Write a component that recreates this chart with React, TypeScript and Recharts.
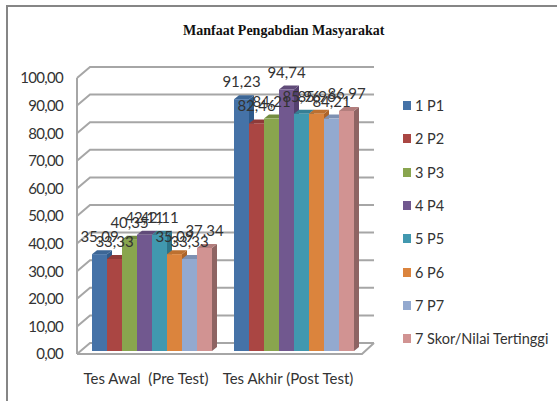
import { BarChart, Bar, XAxis, YAxis, CartesianGrid, Legend, LabelList } from "recharts";

const categories = ["Tes Awal\u00A0 (Pre Test)", "Tes Akhir (Post Test)"];
const seriesNames = ["1 P1", "2 P2", "3 P3", "4 P4", "5 P5", "6 P6", "7 P7", "7 Skor/Nilai Tertinggi"];
const preTest = [35.09, 33.33, 40.35, 42.11, 42.11, 35.09, 33.33, 37.34];
const postTest = [91.23, 82.46, 84.21, 94.74, 85.96, 85.96, 84.21, 86.97];
const yTicks = [0, 10, 20, 30, 40, 50, 60, 70, 80, 90, 100];

const colors = ["#4572A7", "#AA4643", "#89A54E", "#71588F", "#4198AF", "#DB843D", "#93A9CF", "#D19392"];
const sideColors = ["#2F5A8A", "#863230", "#6A803A", "#54406E", "#2D7488", "#AD6429", "#7186AA", "#8E6463"];
const capColors = ["#3C6696", "#8F3A38", "#748D41", "#604B79", "#367F94", "#BC7030", "#7D90B2", "#B27D7C"];

const rows = categories.map((name, i) => {
  const row: Record<string, string | number> = { name };
  seriesNames.forEach((s, j) => {
    row[s] = (i === 0 ? preTest : postTest)[j];
  });
  return row;
});

const fmt = (v: number) => v.toFixed(2).replace(".", ",");
const FONT = "Lato, 'Open Sans', sans-serif";
const GRID = "#A6A6A6";
const PLOT_BOTTOM = 351;

// front face from the library's rect, plus cap and side for the 3d look
const Bar3D = (idx: number) => (props: any) => {
  const { x, y, width, height } = props;
  const dx = 5;
  const dy = 4;
  return (
    <g>
      <polygon
        points={`${x + width},${y} ${x + width + dx},${y - dy} ${x + width + dx},${y + height - dy} ${x + width},${y + height}`}
        fill={sideColors[idx]}
      />
      <polygon
        points={`${x},${y} ${x + dx},${y - dy} ${x + width + dx},${y - dy} ${x + width},${y}`}
        fill={capColors[idx]}
      />
      <rect x={x} y={y} width={width} height={height} fill={colors[idx]} />
    </g>
  );
};

// each grid line bends around the corner of the fake 3d walls
const wallLine = (props: any) => {
  const { x1, x2, y1, key } = props;
  const y = y1;
  const right = x2 - 3;
  const isFloor = Math.abs(y - PLOT_BOTTOM) < 1;
  return (
    <g key={key} fill="none" stroke={GRID} strokeWidth={2}>
      <path d={`M${x1},${y + 3} L${x1 + 13},${y - 8} L${right + 12},${y - 8}`} />
      <path d={`M${x1},${y + 3} L${x1},${PLOT_BOTTOM + 3}`} />
      {isFloor && <path d={`M${x1},${y + 3} L${right},${y + 3} L${right + 12},${y - 8}`} />}
    </g>
  );
};

const LegendList = () => (
  <div style={{ fontFamily: FONT, fontSize: 14.5, color: "#333" }}>
    {seriesNames.map((s, i) => (
      <div key={s} style={{ display: "flex", alignItems: "center", height: 33.3, whiteSpace: "nowrap" }}>
        <span style={{ width: 8, height: 9, background: colors[i], marginRight: 4 }} />
        {s}
      </div>
    ))}
  </div>
);

export default function App() {
  return (
    <div style={{ position: "absolute", left: 0, top: 0, width: 557, height: 401, background: "#fff", overflow: "hidden" }}>
      <div
        style={{
          position: "absolute",
          left: 6,
          top: 5,
          width: 560,
          height: 410,
          borderLeft: "2px solid #868686",
          borderTop: "2px solid #868686",
        }}
      />
      <div
        style={{
          position: "absolute",
          left: 183,
          top: 23,
          fontFamily: "'Liberation Serif', serif",
          fontWeight: "bold",
          fontSize: 14,
          whiteSpace: "nowrap",
          color: "#111",
        }}
      >
        Manfaat Pengabdian Masyarakat
      </div>
      <BarChart
        width={557}
        height={401}
        data={rows}
        barSize={15}
        barGap={0}
        margin={{ top: 75, right: 33, bottom: 0, left: 0 }}
        style={{ position: "absolute", left: 0, top: 0 }}
      >
        <CartesianGrid vertical={false} horizontal={wallLine} />
        <XAxis
          dataKey="name"
          height={50}
          axisLine={false}
          tickLine={false}
          padding={{ left: 4, right: 0 }}
          tick={{ fontSize: 15, fontFamily: FONT, fill: "#333" }}
          dy={14}
          dx={-6}
          interval={0}
        />
        {/* second axis only so the value labels sit on top of every bar */}
        <XAxis xAxisId="labels" dataKey="name" hide padding={{ left: 4, right: 0 }} />
        <YAxis
          width={77}
          domain={[0, 100]}
          ticks={yTicks}
          axisLine={false}
          tickLine={false}
          tickFormatter={fmt}
          tick={{ fontSize: 15, fontFamily: FONT, fill: "#333", letterSpacing: -0.7 }}
          tickMargin={8}
          dy={3}
        />
        <Legend
          layout="vertical"
          align="right"
          verticalAlign="middle"
          width={159}
          content={<LegendList />}
          wrapperStyle={{ left: 403, top: 89 }}
        />
        {seriesNames.map((s, i) => (
          <Bar key={s} dataKey={s} fill={colors[i]} shape={Bar3D(i)} isAnimationActive={false} />
        ))}
        {seriesNames.map((s) => (
          <Bar key={s + "-labels"} xAxisId="labels" dataKey={s} fill="none" isAnimationActive={false}>
            <LabelList
              dataKey={s}
              position="top"
              offset={12}
              formatter={fmt}
              style={{ fontSize: 15, fontFamily: FONT, fill: "#333" }}
            />
          </Bar>
        ))}
      </BarChart>
    </div>
  );
}
